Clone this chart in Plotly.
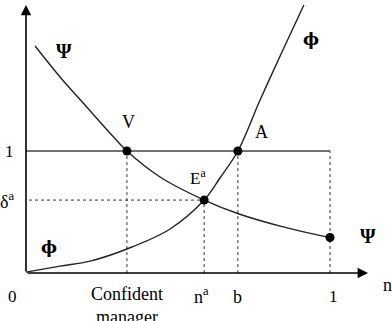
import plotly.graph_objects as go

# Pixel-read data converted to data units (origin at 0, n=1 at 1)
psi_x = [0.030, 0.112, 0.194, 0.276, 0.332, 0.441, 0.586, 0.701, 0.836, 1.000]
psi_y = [1.861, 1.607, 1.377, 1.148, 1.000, 0.787, 0.598, 0.484, 0.385, 0.291]
phi_x = [0.000, 0.112, 0.211, 0.332, 0.474, 0.586, 0.638, 0.697, 0.770, 0.845, 0.914]
phi_y = [0.008, 0.057, 0.098, 0.197, 0.361, 0.598, 0.779, 1.000, 1.418, 1.828, 2.197]

v_x, a_x, e_x, end_x = 0.332, 0.697, 0.586, 1.000
delta_a = 0.598
psi_end = 0.291

FONT = "Liberation Serif"

fig = go.Figure()

# horizontal line y=1
fig.add_trace(go.Scatter(x=[0, 1], y=[1, 1], mode="lines",
                         line=dict(color="#444", width=1.6), hoverinfo="skip"))
# dotted guides
dot = dict(color="#333", width=1, dash="dot")
for xv, yv in [(v_x, 1), (e_x, delta_a), (a_x, 1), (end_x, 1)]:
    fig.add_trace(go.Scatter(x=[xv, xv], y=[0, yv], mode="lines", line=dot, hoverinfo="skip"))
fig.add_trace(go.Scatter(x=[0.01, e_x], y=[delta_a, delta_a], mode="lines", line=dot, hoverinfo="skip"))

# curves
fig.add_trace(go.Scatter(x=psi_x, y=psi_y, mode="lines", line=dict(color="#222", width=1.4, shape="spline"), hoverinfo="skip"))
fig.add_trace(go.Scatter(x=phi_x, y=phi_y, mode="lines", line=dict(color="#222", width=1.4, shape="spline"), hoverinfo="skip"))

# points
fig.add_trace(go.Scatter(x=[v_x, a_x, e_x, end_x], y=[1, 1, delta_a, psi_end], mode="markers",
                         marker=dict(color="black", size=9), hoverinfo="skip"))

# axes with arrows
fig.add_annotation(x=0, y=2.197, ax=0, ay=0, xref="x", yref="y", axref="x", ayref="y",
                   showarrow=True, arrowhead=2, arrowsize=1.3, arrowwidth=1.6, arrowcolor="black", text="")
fig.add_annotation(x=1.125, y=0, ax=0, ay=0, xref="x", yref="y", axref="x", ayref="y",
                   showarrow=True, arrowhead=2, arrowsize=1.3, arrowwidth=1.6, arrowcolor="black", text="")

def lab(x, y, t, size=17, family=FONT, **kw):
    fig.add_annotation(x=x, y=y, xref="x", yref="y", text=t, showarrow=False,
                       font=dict(family=family, size=size, color="black"), **kw)

lab(0.125, 1.822, "<b>Ψ</b>", 20)
lab(0.937, 1.918, "<b>ϕ</b>", 17, family="DejaVu Serif")
lab(0.336, 1.238, "V", 18)
lab(0.776, 1.156, "A", 18)
lab(0.566, 0.787, "E<sup>a</sup>", 17)
lab(1.125, 0.303, "<b>Ψ</b>", 20)
lab(0.076, 0.213, "<b>ϕ</b>", 17, family="DejaVu Serif")
lab(-0.055, 1.0, "1", 17)
lab(-0.062, 0.598, "δ<sup>a</sup>", 18)
lab(-0.046, -0.189, "0", 17)
lab(0.332, -0.262, "Confident<br>manager", 18)
lab(0.576, -0.180, "n<sup>a</sup>", 18)
lab(0.697, -0.197, "b", 18)
lab(1.010, -0.189, "1", 17)
lab(1.190, -0.098, "n", 18)

fig.update_layout(
    width=392, height=321, margin=dict(l=0, r=0, t=0, b=0),
    paper_bgcolor="white", plot_bgcolor="white", showlegend=False,
    xaxis=dict(range=[-0.0855, 1.2039], visible=False, fixedrange=True),
    yaxis=dict(range=[-0.393, 2.2377], visible=False, fixedrange=True),
)
fig.write_html("out.html")
